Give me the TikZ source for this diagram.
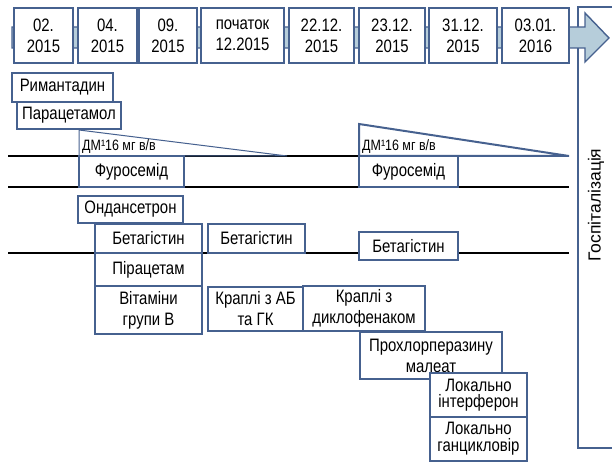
\documentclass[tikz,border=0pt]{standalone}
\usepackage{fontspec}
\setmainfont[FakeStretch=0.83]{Liberation Sans}
\newfontfamily\widefont{Liberation Sans}
\usepackage{xcolor}
\definecolor{lineblue}{HTML}{46618F}
\definecolor{barblue}{HTML}{B6CDDA}
\newcommand\med[1]{\fontsize{15}{18}\selectfont #1}

\begin{document}
\begin{tikzpicture}[x=1pt,y=-1pt,
		datebox/.style={draw=lineblue, line width=2.2pt, fill=white, inner sep=0pt, align=center, font=\fontsize{18}{21}\selectfont},
		drugbox/.style={draw=lineblue, line width=1.1pt, fill=white, inner sep=0pt, align=center, font=\fontsize{18}{21}\selectfont}]
					\useasboundingbox (0,0) rectangle (612,462);
					\draw[lineblue, line width=2pt] (578,7) rectangle (620,448);
					\draw[lineblue, line width=1.4pt, fill=barblue] (12,27) -- (585,27) -- (585,13) -- (609,38) -- (585,62) -- (585,48) -- (12,48) -- cycle;
					\node[rotate=90, font=\widefont\fontsize{17.5}{20}\selectfont] (hosp) at (596,205) {Госпіталізація};

					\node[datebox, line width=1.2pt, minimum width=59, minimum height=55] (d1) at (43.5,35.5) {02.\\2015};
					\node[datebox, minimum width=59, minimum height=55] (d2) at (107.5,35.5) {04.\\2015};
					\node[datebox, minimum width=58, minimum height=55] (d3) at (168,35.5) {09.\\2015};
					\node[datebox, minimum width=83, minimum height=55] (d4) at (242.5,35.5) {початок\\12.2015};
					\node[datebox, minimum width=65, minimum height=55] (d5) at (321.5,35.5) {22.12.\\2015};
					\node[datebox, minimum width=66, minimum height=55] (d6) at (392,35.5) {23.12.\\2015};
					\node[datebox, minimum width=68, minimum height=55] (d7) at (463,35.5) {31.12.\\2015};
					\node[datebox, minimum width=67, minimum height=55] (d8) at (535.5,35.5) {03.01.\\2016};

					\draw[line width=1.1pt] (8,156) -- (569,156);
					\draw[line width=1.1pt] (8,187) -- (569,187);
					\draw[line width=1.1pt] (8,253) -- (569,253);

					\draw[lineblue, line width=1pt] (79,130) -- (79,156) -- (287,156) -- cycle;
					\draw[lineblue, line width=2pt] (359,124) -- (359,156) -- (569,156) -- cycle;
					\node[anchor=base west, inner sep=0pt] (dm1) at (82,151) {\med{ДМ¹16 мг в/в}};
					\node[anchor=base west, inner sep=0pt] (dm2) at (362,151) {\med{ДМ¹16 мг в/в}};

					\node[drugbox, minimum width=101, minimum height=29] (rim) at (62.5,87.5) {Римантадин};
					\node[drugbox, minimum width=104, minimum height=27] (para) at (69,115.5) {Парацетамол};
					\node[drugbox, minimum width=105, minimum height=31] (furo1) at (131.5,171.5) {Фуросемід};
					\node[drugbox, minimum width=99, minimum height=31] (furo2) at (408.5,171.5) {Фуросемід};
					\node[drugbox, minimum width=105, minimum height=27] (ond) at (130.5,209.5) {Ондансетрон};
					\node[drugbox, minimum width=107, minimum height=29] (bet1) at (148.5,238.5) {Бетагістин};
					\node[drugbox, minimum width=97, minimum height=29] (bet2) at (256.5,238.5) {Бетагістин};
					\node[drugbox, minimum width=99, minimum height=28] (bet3) at (408.5,246) {Бетагістин};
					\node[drugbox, minimum width=107, minimum height=33] (pira) at (148.5,269.5) {Пірацетам};
					\node[drugbox, minimum width=107, minimum height=48] (vit) at (148.5,310) {Вітаміни\\групи В};
					\node[drugbox, minimum width=95, minimum height=44] (krap1) at (255.5,309) {Краплі з АБ\\та ГК};
					\node[drugbox, minimum width=122, minimum height=45] (krap2) at (364,308.5) {Краплі з\\диклофенаком};
					\node[drugbox, minimum width=142, minimum height=47] (proh) at (431,355.5) {Прохлорперазину\\малеат};
					\node[drugbox, minimum width=97, minimum height=44, font=\fontsize{18}{16.5}\selectfont] (lok1) at (478.5,395) {Локально\\інтерферон};
					\node[drugbox, minimum width=97, minimum height=44, font=\fontsize{18}{17}\selectfont] (lok2) at (478.5,439) {Локально\\ганцикловір};
				\end{tikzpicture}
\end{document}
